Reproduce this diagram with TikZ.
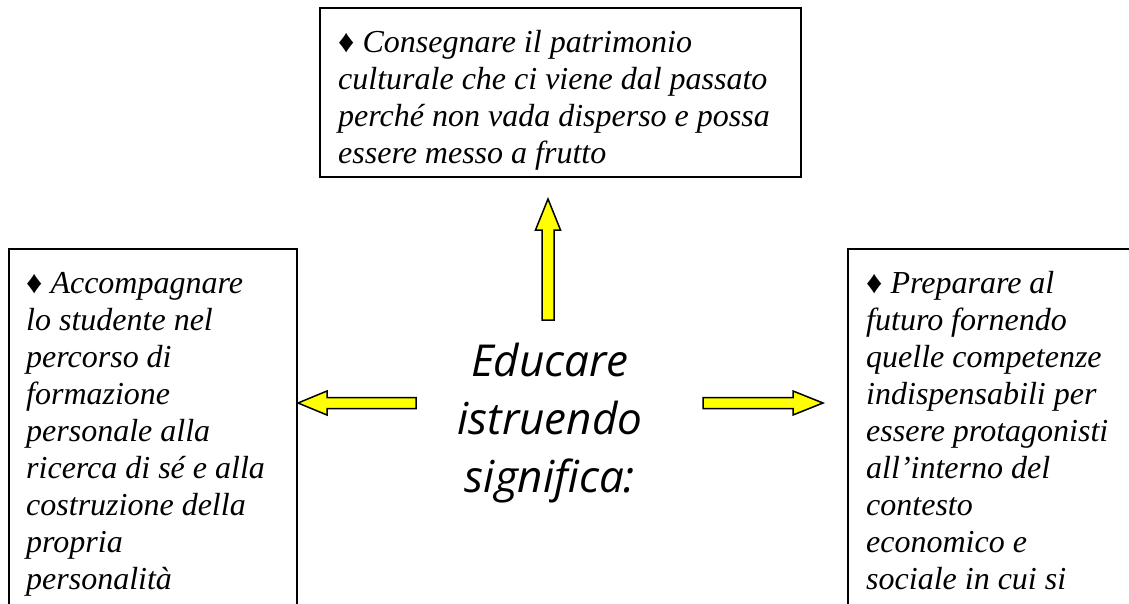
\documentclass[tikz,border=0pt]{standalone}
\usepackage{fontspec}
\setmainfont{Liberation Serif}
\newfontfamily\handfont{Open Sans}
\usetikzlibrary{calc}
\definecolor{arrowyellow}{HTML}{FFFF00}
\begin{document}
\begin{tikzpicture}[x=1pt,y=-1pt,
  framebox/.style={draw=black, line width=2pt, anchor=north west, inner sep=0pt},
  boxtext/.style={anchor=north west, inner sep=0pt, align=left,
    font=\fontsize{32}{37}\selectfont\itshape},
  centertext/.style={anchor=north, inner sep=0pt, align=center,
    font=\handfont\itshape\fontsize{44}{58}\selectfont},
  blockarr/.style={fill=arrowyellow, draw=black, line width=1.5pt, line join=miter}]
\useasboundingbox (0,0) rectangle (1129,604);
\clip (0,0) rectangle (1129,604);
% boxes
\node[framebox, minimum width=481pt, minimum height=169pt] (topbox) at (319,7) {};
\node[framebox, minimum width=288pt, minimum height=420pt] (leftbox) at (8,248) {};
\node[framebox, minimum width=300pt, minimum height=420pt] (rightbox) at (847,248) {};
% texts
\node[boxtext] (toptext) at (338,22) {\rule{0pt}{30pt}{\upshape ♦} Consegnare il patrimonio\\
culturale che ci viene dal passato\\
perché non vada disperso e possa\\
essere messo a frutto};
\node[boxtext] (lefttext) at (26,263) {\rule{0pt}{30pt}{\upshape ♦} Accompagnare\\
lo studente nel\\
percorso di\\
formazione\\
personale alla\\
ricerca di sé e alla\\
costruzione della\\
propria\\
personalità};
\node[boxtext] (righttext) at (866,263) {\rule{0pt}{30pt}{\upshape ♦} Preparare al\\
futuro fornendo\\
quelle competenze\\
indispensabili per\\
essere protagonisti\\
all’interno del\\
contesto\\
economico e\\
sociale in cui si};
\node[centertext] (center) at (550,336) {\rule{0pt}{40pt}Educare\\istruendo\\significa:};
% arrow end points
\coordinate (upT) at (548,320);
\coordinate (upH) at (548,199);
\coordinate (lT) at (416,403);
\coordinate (lH) at (leftbox.north east |- lT);
\coordinate (rT) at (703,403);
\coordinate (rH) at (823,403);
% up arrow
\draw[blockarr] ($(upT)+(-6,0)$) -- ($(upH)+(-6,31)$) -- ($(upH)+(-12.5,31)$) -- (upH)
  -- ($(upH)+(12.5,31)$) -- ($(upH)+(6,31)$) -- ($(upT)+(6,0)$) -- cycle;
% left arrow
\draw[blockarr] ($(lT)+(0,-5.5)$) -- ($(lH)+(29,-5.5)$) -- ($(lH)+(29,-12)$) -- (lH)
  -- ($(lH)+(29,12)$) -- ($(lH)+(29,5.5)$) -- ($(lT)+(0,5.5)$) -- cycle;
% right arrow
\draw[blockarr] ($(rT)+(0,-5.5)$) -- ($(rH)+(-30,-5.5)$) -- ($(rH)+(-30,-12)$) -- (rH)
  -- ($(rH)+(-30,12)$) -- ($(rH)+(-30,5.5)$) -- ($(rT)+(0,5.5)$) -- cycle;
\end{tikzpicture}
\end{document}
